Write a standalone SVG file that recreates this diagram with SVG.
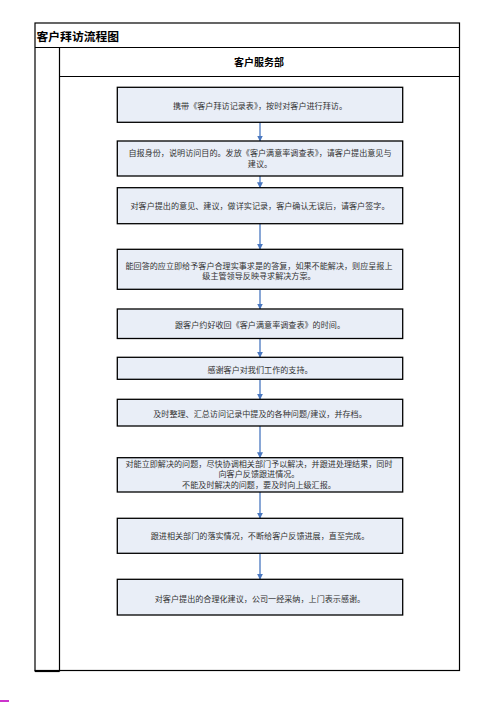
<svg xmlns="http://www.w3.org/2000/svg" width="496" height="702" viewBox="0 0 496 702">
<style>
.frame{fill:none;stroke:#000;stroke-width:1.2}
.box{fill:#e9eef7;stroke:#000;stroke-width:1.3}
.t{font-family:"Noto Sans CJK SC","Noto Sans CJK TC",sans-serif;font-size:8.1px;fill:#333;text-anchor:middle;dominant-baseline:central}
.h{font-family:"Noto Sans CJK SC",sans-serif;font-weight:bold;fill:#000;dominant-baseline:central}
.arr{stroke:#4a78c0;stroke-width:1.3;fill:none;marker-end:url(#ah)}
</style>
<defs>
<marker id="ah" markerWidth="6" markerHeight="6" refX="5.5" refY="3" orient="auto" markerUnits="userSpaceOnUse">
<path d="M0,0 L6,3 L0,6 Z" fill="#4a78c0"/>
</marker>
</defs>
<rect width="496" height="702" fill="#fff"/>
<g id="table">
<rect class="frame" x="35" y="23" width="424.5" height="647.5"/>
<line class="frame" x1="35" y1="47.5" x2="459.5" y2="47.5"/>
<line class="frame" x1="59.5" y1="47.5" x2="59.5" y2="671.5"/>
<line class="frame" x1="35" y1="670.5" x2="35" y2="671.5"/>
<line class="frame" x1="35" y1="671.5" x2="59.5" y2="671.5"/>
<line class="frame" x1="59.5" y1="76.5" x2="459.5" y2="76.5"/>
<text class="h" x="36.5" y="35.5" font-size="11.8">客户拜访流程图</text>
<text class="h" x="259" y="61.5" font-size="10" text-anchor="middle">客户服务部</text>
</g>
<g id="connectors">
<line class="arr" x1="260" y1="122.5" x2="260" y2="141"/>
<line class="arr" x1="260" y1="176" x2="260" y2="187.7"/>
<line class="arr" x1="260" y1="224" x2="260" y2="249.3"/>
<line class="arr" x1="260" y1="289.5" x2="260" y2="309"/>
<line class="arr" x1="260" y1="338.5" x2="260" y2="357.3"/>
<line class="arr" x1="260" y1="379.5" x2="260" y2="399.3"/>
<line class="arr" x1="260" y1="426" x2="260" y2="457.7"/>
<line class="arr" x1="260" y1="492" x2="260" y2="518.3"/>
<line class="arr" x1="260" y1="553.5" x2="260" y2="579.3"/>
</g>
<g id="n1"><rect class="box" x="117.3" y="87.3" width="285.4" height="35"/>
<text class="t" x="260" y="105">携带《客户拜访记录表》，按时对客户进行拜访。</text></g>
<g id="n2"><rect class="box" x="117.3" y="141" width="285.4" height="35"/>
<text class="t" x="260" y="152.5">自报身份，说明访问目的。发放《客户满意率调查表》，请客户提出意见与</text>
<text class="t" x="260" y="163">建议。</text></g>
<g id="n3"><rect class="box" x="117.3" y="187.7" width="285.4" height="36"/>
<text class="t" x="260" y="205.7">对客户提出的意见、建议，做详实记录，客户确认无误后，请客户签字。</text></g>
<g id="n4"><rect class="box" x="117.3" y="249.3" width="285.4" height="40"/>
<text class="t" x="259" y="265">能回答的应立即给予客户合理实事求是的答复，如果不能解决，则应呈报上</text>
<text class="t" x="259" y="275.5">级主管领导反映寻求解决方案。</text></g>
<g id="n5"><rect class="box" x="117.3" y="309" width="285.4" height="29.5"/>
<text class="t" x="260" y="324">跟客户约好收回《客户满意率调查表》的时间。</text></g>
<g id="n6"><rect class="box" x="117.3" y="357.3" width="285.4" height="22"/>
<text class="t" x="260" y="369">感谢客户对我们工作的支持。</text></g>
<g id="n7"><rect class="box" x="117.3" y="399.3" width="285.4" height="26.7"/>
<text class="t" x="260" y="413">及时整理、汇总访问记录中提及的各种问题/建议，并存档。</text></g>
<g id="n8"><rect class="box" x="117.3" y="457.7" width="285.4" height="34.3"/>
<text class="t" x="259" y="463">对能立即解决的问题，尽快协调相关部门予以解决，并跟进处理结果，同时</text>
<text class="t" x="259" y="473">向客户反馈跟进情况。</text>
<text class="t" x="259" y="484.5">不能及时解决的问题，要及时向上级汇报。</text></g>
<g id="n9"><rect class="box" x="117.3" y="518.3" width="285.4" height="35"/>
<text class="t" x="260" y="535.5">跟进相关部门的落实情况，不断给客户反馈进展，直至完成。</text></g>
<g id="n10"><rect class="box" x="117.3" y="579.3" width="285.4" height="35.7"/>
<text class="t" x="260" y="598">对客户提出的合理化建议，公司一经采纳，上门表示感谢。</text></g>
<rect x="0" y="700" width="9" height="2" fill="#cc33cc"/>
</svg>
